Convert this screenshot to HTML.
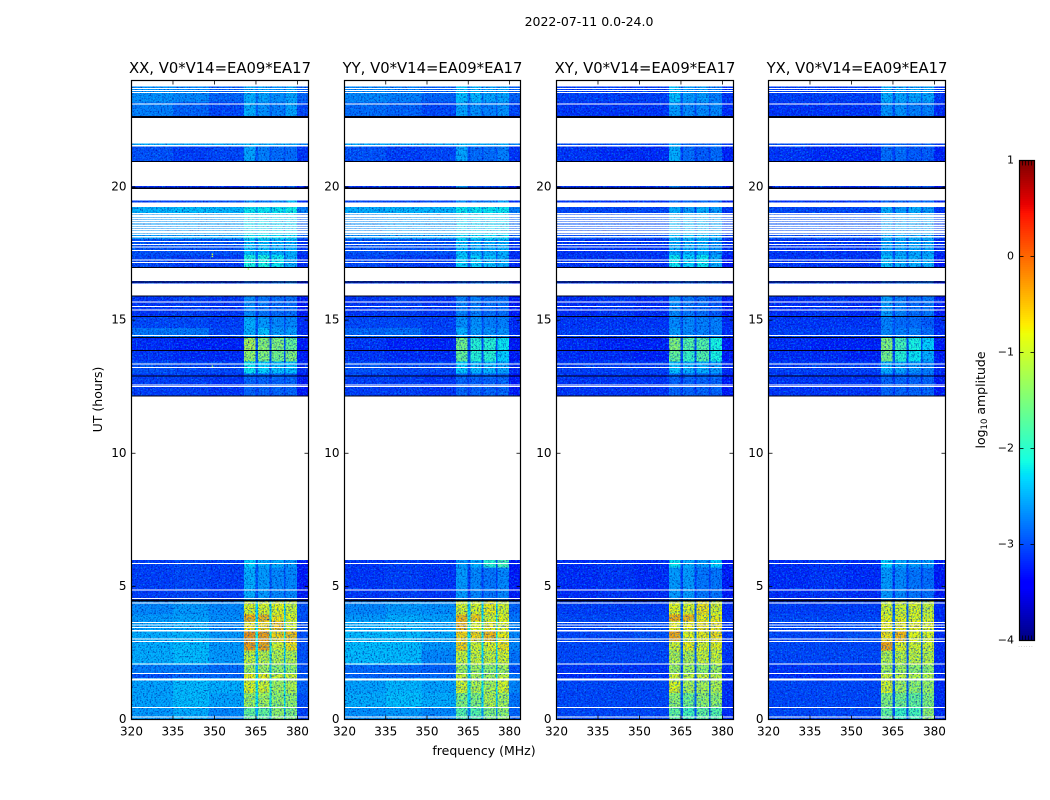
<!DOCTYPE html>
<html>
<head>
<meta charset="utf-8">
<title>2022-07-11 waterfall</title>
<style>
html,body{margin:0;padding:0;background:#fff;}
svg{display:block;}
text{font-family:"DejaVu Sans","Liberation Sans",sans-serif;fill:#000;}
</style>
</head>
<body>
<svg id="chart" xmlns="http://www.w3.org/2000/svg" width="1050" height="800" viewBox="0 0 1050 800">
  <defs>
    <filter id="speckle" filterUnits="userSpaceOnUse" x="120" y="70" width="840" height="660" color-interpolation-filters="sRGB">
      <feTurbulence type="fractalNoise" baseFrequency="0.62" numOctaves="2" seed="4" result="t1"/>
      <feColorMatrix in="t1" type="matrix" values="0 0 0 0 0  0 0 0 0 0.05  0 0 0 0 0.6  2.2 0 0 0 -1.02" result="dark"/>
      <feTurbulence type="fractalNoise" baseFrequency="0.58" numOctaves="2" seed="11" result="t2"/>
      <feColorMatrix in="t2" type="matrix" values="0 0 0 0 0  0 0 0 0 0.7  0 0 0 0 1  1.8 0 0 0 -0.88" result="light"/>
      <feMerge result="noise"><feMergeNode in="dark"/><feMergeNode in="light"/></feMerge>
      <feComposite in="noise" in2="SourceAlpha" operator="in" result="clipped"/>
      <feMerge><feMergeNode in="SourceGraphic"/><feMergeNode in="clipped"/></feMerge>
    </filter>
  </defs>
  <text x="589" y="26" font-size="12.5" text-anchor="middle">2022-07-11 0.0-24.0</text>
  <text x="0" y="0" font-size="12.5" text-anchor="middle" transform="translate(102,399.5) rotate(-90)">UT (hours)</text>
  <text x="484" y="755" font-size="12.5" text-anchor="middle">frequency (MHz)</text>
  <text x="0" y="0" font-size="12.5" text-anchor="middle" transform="translate(985,400) rotate(-90)">log<tspan font-size="8.5" dy="2">10</tspan><tspan dy="-2"> amplitude</tspan></text>
  <g id="panels"></g>
  <g id="colorbar"></g>
</svg>
<script>
// ---- chart data -----------------------------------------------------------
const panelTitles = ["XX, V0*V14=EA09*EA17","YY, V0*V14=EA09*EA17","XY, V0*V14=EA09*EA17","YX, V0*V14=EA09*EA17"];
const xTicks = [320,335,350,365,380];
const yTicks = [0,5,10,15,20];
const cbarTicks = [1,0,-1,-2,-3,-4];
// frequency column edges (MHz)
const freqEdges = [320,335,348,360.6,364.8,365.8,369.9,370.6,375.1,375.7,379.9,384];
// which value of a band row each frequency column reads
const freqColumn = [0,1,2,3,4,5,4,6,4,7,8];
// observed time bands (hours)
const timeBands = [[0,0.45],[0.45,1.0],[1.0,1.55],[1.55,1.75],[1.75,2.05],[2.05,2.6],[2.6,2.95],[2.95,3.3],[3.3,3.7],[3.7,3.95],[3.95,4.5],[4.5,5.7],[5.7,6.0],[12.15,13.0],[13.0,13.45],[13.45,13.87],[13.87,14.35],[14.35,14.7],[14.7,15.1],[15.1,15.92],[16.38,16.47],[16.97,17.45],[17.45,18.05],[18.05,19.0],[19.0,19.24],[19.42,19.5],[19.98,20.03],[20.95,21.53],[21.58,21.64],[22.62,23.2],[23.2,23.78]];
// log10 amplitude per band: low1, low2, low3, rfi1, gap, rfi2, rfi3, rfi4, edge
const ampXX = [
[-2.6,-2.5,-2.7,-1.6,-2.5,-1.6,-1.3,-1.4,-3.1],
[-2.55,-2.42,-2.55,-1.2,-2.2,-1.2,-1.3,-1.3,-3.0],
[-2.55,-2.42,-2.48,-0.85,-2.1,-0.9,-1.2,-1.1,-2.9],
[-3.0,-2.9,-2.9,-0.75,-2.2,-0.75,-0.9,-0.9,-3.0],
[-2.75,-2.75,-2.85,-1.2,-2.4,-1.2,-1.3,-1.3,-3.0],
[-2.5,-2.42,-2.6,-1.0,-2.3,-1.05,-1.1,-1.1,-3.0],
[-2.5,-2.42,-2.6,-0.3,-2.2,-0.35,-0.9,-0.7,-3.0],
[-2.5,-2.45,-2.6,-0.25,-2.1,-0.3,-0.6,-0.5,-3.0],
[-2.55,-2.5,-2.7,-0.7,-2.2,-0.6,-0.5,-0.9,-3.0],
[-2.6,-2.55,-2.65,-0.4,-2.2,-0.45,-0.7,-0.85,-3.0],
[-2.7,-2.6,-2.7,-0.85,-2.3,-0.85,-0.8,-0.95,-3.0],
[-3.1,-3.05,-3.1,-2.5,-3.0,-2.6,-2.7,-2.7,-3.3],
[-3.1,-3.05,-3.1,-2.3,-2.9,-2.5,-2.5,-2.6,-3.3],
[-3.1,-3.1,-3.15,-2.9,-3.1,-2.9,-2.9,-2.9,-3.3],
[-3.0,-3.05,-3.05,-2.2,-2.9,-2.3,-2.4,-2.4,-3.2],
[-3.15,-3.2,-3.2,-1.3,-3.0,-1.4,-1.5,-1.4,-3.3],
[-3.2,-3.25,-3.25,-1.15,-3.0,-1.35,-1.4,-1.6,-3.3],
[-2.8,-2.8,-3.05,-2.5,-3.0,-2.4,-2.6,-2.6,-3.2],
[-3.05,-3.05,-3.1,-2.5,-3.0,-2.6,-2.7,-2.7,-3.2],
[-3.15,-3.1,-3.15,-2.7,-3.1,-2.8,-2.85,-2.85,-3.3],
[-3.15,-3.15,-3.15,-2.9,-3.15,-2.9,-2.8,-2.7,-3.3],
[-3.05,-3.1,-3.1,-2.1,-2.9,-2.1,-2.2,-2.5,-3.2],
[-3.0,-3.0,-3.0,-2.4,-2.9,-2.4,-2.5,-2.5,-3.15],
[-2.6,-2.55,-2.55,-2.2,-2.5,-2.2,-2.25,-2.25,-2.9],
[-2.45,-2.4,-2.45,-2.2,-2.4,-2.2,-2.2,-2.15,-2.75],
[-3.05,-3.05,-3.0,-2.65,-3.0,-2.75,-2.65,-2.4,-3.2],
[-3.2,-3.2,-3.2,-3.0,-3.2,-3.0,-3.0,-3.0,-3.3],
[-3.0,-3.1,-3.05,-2.55,-3.0,-2.75,-2.85,-2.85,-3.15],
[-2.5,-2.5,-2.5,-2.4,-2.5,-2.5,-2.5,-2.5,-2.7],
[-2.75,-2.9,-3.05,-2.5,-2.9,-2.65,-2.75,-2.55,-3.05],
[-2.65,-2.7,-2.9,-2.5,-2.8,-2.55,-2.65,-2.55,-2.9]];
const ampYY = [
[-2.65,-2.6,-2.7,-1.7,-2.6,-1.7,-1.4,-1.3,-2.9],
[-2.5,-2.4,-2.5,-1.4,-2.3,-1.4,-1.1,-1.2,-2.8],
[-2.55,-2.45,-2.55,-0.9,-2.2,-1.1,-1.15,-0.9,-2.7],
[-2.9,-2.9,-2.85,-0.95,-2.3,-1.1,-1.15,-1.0,-2.8],
[-2.85,-2.85,-2.9,-1.2,-2.4,-1.2,-1.3,-1.2,-3.0],
[-2.42,-2.42,-2.7,-0.95,-2.3,-0.95,-1.0,-0.9,-2.8],
[-2.4,-2.42,-2.6,-0.6,-2.2,-0.9,-0.8,-0.7,-2.7],
[-2.42,-2.42,-2.5,-0.6,-2.2,-0.6,-0.45,-0.75,-2.7],
[-2.5,-2.45,-2.55,-0.45,-2.1,-0.8,-0.75,-0.8,-2.7],
[-2.6,-2.5,-2.55,-0.45,-2.2,-0.55,-0.9,-0.8,-2.8],
[-2.7,-2.6,-2.65,-0.85,-2.3,-0.85,-0.75,-0.9,-2.9],
[-3.15,-3.1,-3.15,-2.6,-3.1,-2.7,-2.8,-2.7,-3.3],
[-3.15,-3.1,-3.15,-2.6,-3.0,-2.5,-2.0,-1.8,-3.3],
[-3.1,-3.1,-3.15,-2.9,-3.1,-2.9,-2.9,-2.9,-3.3],
[-3.0,-3.05,-3.05,-2.35,-3.0,-2.45,-2.45,-2.55,-3.2],
[-3.15,-3.2,-3.2,-1.6,-3.0,-2.0,-2.0,-2.3,-3.3],
[-3.15,-3.25,-3.25,-1.5,-3.0,-2.0,-2.0,-2.2,-3.3],
[-2.9,-2.85,-3.05,-2.5,-3.0,-2.6,-2.65,-2.65,-3.2],
[-3.05,-3.05,-3.1,-2.65,-3.0,-2.65,-2.75,-2.75,-3.2],
[-3.15,-3.1,-3.15,-2.75,-3.1,-2.75,-2.85,-2.85,-3.3],
[-3.15,-3.15,-3.15,-2.9,-3.15,-2.9,-2.8,-2.8,-3.3],
[-3.05,-3.1,-3.1,-2.3,-2.9,-2.3,-2.4,-2.5,-3.2],
[-3.0,-3.0,-3.0,-2.4,-2.9,-2.5,-2.5,-2.5,-3.15],
[-2.65,-2.55,-2.55,-2.25,-2.5,-2.25,-2.25,-2.25,-2.9],
[-2.5,-2.45,-2.45,-2.2,-2.4,-2.2,-2.2,-2.2,-2.75],
[-3.05,-3.05,-3.05,-2.65,-3.0,-2.75,-2.75,-2.55,-3.2],
[-3.2,-3.2,-3.2,-2.65,-3.2,-3.0,-3.0,-3.0,-3.3],
[-3.0,-3.1,-3.05,-2.55,-3.0,-2.85,-2.85,-2.75,-3.15],
[-2.5,-2.5,-2.5,-2.4,-2.5,-2.5,-2.5,-2.5,-2.7],
[-2.85,-2.9,-3.05,-2.55,-2.9,-2.65,-2.75,-2.65,-3.05],
[-2.7,-2.75,-2.9,-2.4,-2.8,-2.45,-2.55,-2.55,-2.9]];
const ampXY = [
[-3.05,-3.05,-3.05,-1.6,-3.0,-1.8,-1.6,-1.7,-3.2],
[-3.05,-3.05,-3.05,-1.3,-2.9,-1.5,-1.3,-1.3,-3.2],
[-3.05,-3.05,-3.05,-0.85,-2.9,-1.15,-1.15,-1.1,-3.2],
[-3.2,-3.2,-3.15,-0.85,-2.9,-1.0,-0.95,-1.0,-3.2],
[-3.15,-3.15,-3.15,-1.2,-3.0,-1.2,-1.3,-1.2,-3.2],
[-3.05,-3.05,-3.05,-1.1,-2.9,-1.1,-0.95,-0.95,-3.15],
[-3.05,-3.05,-3.05,-0.9,-2.9,-0.75,-0.85,-0.8,-3.15],
[-3.05,-3.05,-3.0,-0.35,-2.8,-0.8,-0.75,-0.65,-3.15],
[-3.05,-3.05,-3.0,-0.75,-2.8,-0.75,-0.7,-0.7,-3.15],
[-3.05,-3.05,-3.05,-0.4,-2.8,-0.45,-0.75,-0.75,-3.15],
[-3.1,-3.1,-3.1,-0.8,-2.9,-0.85,-0.7,-0.85,-3.2],
[-3.2,-3.15,-3.2,-2.6,-3.1,-2.6,-2.8,-2.8,-3.3],
[-3.2,-3.15,-3.2,-2.2,-3.0,-2.5,-2.6,-2.3,-3.3],
[-3.15,-3.15,-3.15,-2.9,-3.15,-2.9,-2.9,-2.9,-3.3],
[-3.1,-3.1,-3.1,-2.4,-3.0,-2.5,-2.5,-2.6,-3.2],
[-3.2,-3.2,-3.25,-1.6,-3.0,-1.9,-1.7,-2.1,-3.3],
[-3.2,-3.25,-3.25,-1.4,-3.0,-1.7,-1.7,-2.1,-3.3],
[-3.1,-3.1,-3.1,-2.6,-3.0,-2.7,-2.75,-2.75,-3.2],
[-3.15,-3.15,-3.15,-2.7,-3.0,-2.7,-2.75,-2.75,-3.2],
[-3.2,-3.15,-3.2,-2.7,-3.1,-2.8,-2.85,-2.95,-3.3],
[-3.15,-3.15,-3.15,-2.9,-3.15,-2.9,-2.85,-2.85,-3.3],
[-3.15,-3.15,-3.15,-2.2,-3.0,-2.3,-2.2,-2.5,-3.3],
[-3.15,-3.15,-3.15,-2.5,-3.0,-2.5,-2.5,-2.65,-3.2],
[-3.0,-3.0,-3.0,-2.4,-2.9,-2.4,-2.4,-2.5,-3.1],
[-3.05,-3.05,-3.05,-2.5,-3.0,-2.6,-2.5,-2.6,-3.15],
[-3.15,-3.15,-3.15,-2.85,-3.1,-2.85,-2.85,-2.85,-3.25],
[-3.2,-3.2,-3.2,-2.75,-3.2,-3.0,-3.0,-3.0,-3.3],
[-3.15,-3.2,-3.2,-2.5,-3.1,-2.85,-2.95,-2.85,-3.25],
[-3.0,-3.0,-3.0,-2.5,-3.0,-2.85,-2.85,-2.85,-3.1],
[-3.15,-3.15,-3.15,-2.6,-3.0,-2.7,-2.7,-2.7,-3.2],
[-3.1,-3.1,-3.1,-2.4,-2.9,-2.6,-2.6,-2.75,-3.15]];
const ampYX = [
[-3.05,-3.05,-3.05,-1.6,-3.0,-1.9,-1.8,-1.3,-3.2],
[-3.05,-3.05,-3.05,-1.4,-2.9,-1.5,-1.6,-1.4,-3.2],
[-3.05,-3.05,-3.05,-0.9,-2.9,-1.2,-1.3,-1.25,-3.2],
[-3.2,-3.2,-3.15,-0.9,-2.9,-1.0,-1.05,-1.05,-3.2],
[-3.15,-3.15,-3.15,-1.2,-3.0,-1.2,-1.3,-1.3,-3.2],
[-3.05,-3.05,-3.05,-1.1,-2.9,-1.05,-1.0,-1.05,-3.2],
[-3.05,-3.05,-3.05,-0.35,-2.9,-0.8,-0.9,-0.9,-3.2],
[-3.05,-3.05,-3.0,-0.7,-2.8,-0.45,-0.8,-0.85,-3.2],
[-3.05,-3.05,-3.0,-0.75,-2.8,-0.75,-0.75,-0.8,-3.2],
[-3.05,-3.05,-3.05,-0.8,-2.8,-0.8,-0.85,-0.9,-3.2],
[-3.1,-3.1,-3.1,-0.9,-2.9,-0.9,-0.85,-0.95,-3.2],
[-3.2,-3.15,-3.2,-2.6,-3.1,-2.7,-2.8,-2.85,-3.3],
[-3.2,-3.15,-3.2,-2.3,-3.0,-2.5,-2.6,-2.6,-3.3],
[-3.15,-3.15,-3.15,-2.9,-3.15,-2.9,-2.9,-2.9,-3.3],
[-3.1,-3.1,-3.1,-2.5,-3.0,-2.55,-2.65,-2.75,-3.2],
[-3.2,-3.2,-3.25,-1.5,-3.0,-2.0,-2.2,-2.5,-3.3],
[-3.2,-3.25,-3.25,-1.4,-3.0,-1.8,-2.1,-2.3,-3.3],
[-3.1,-3.1,-3.1,-2.7,-3.0,-2.75,-2.75,-2.85,-3.2],
[-3.15,-3.15,-3.15,-2.75,-3.0,-2.85,-2.85,-2.95,-3.2],
[-3.2,-3.15,-3.2,-2.6,-3.1,-2.75,-2.85,-2.8,-3.3],
[-3.15,-3.15,-3.15,-2.9,-3.15,-2.9,-2.9,-2.85,-3.3],
[-3.15,-3.15,-3.15,-2.4,-3.0,-2.5,-2.5,-2.5,-3.3],
[-3.15,-3.15,-3.15,-2.55,-3.0,-2.55,-2.55,-2.55,-3.2],
[-3.0,-3.0,-3.0,-2.5,-2.9,-2.5,-2.5,-2.5,-3.1],
[-3.05,-3.05,-3.05,-2.5,-3.0,-2.6,-2.5,-2.6,-3.15],
[-3.15,-3.15,-3.15,-2.85,-3.1,-2.85,-2.85,-2.85,-3.25],
[-3.2,-3.2,-3.2,-3.0,-3.2,-3.0,-3.0,-3.0,-3.3],
[-3.15,-3.2,-3.2,-2.85,-3.1,-2.85,-2.95,-2.95,-3.25],
[-3.0,-3.0,-3.0,-2.9,-3.0,-2.9,-2.9,-2.9,-3.1],
[-3.15,-3.15,-3.15,-2.65,-3.0,-2.65,-2.75,-2.75,-3.2],
[-3.1,-3.1,-3.1,-2.5,-2.9,-2.55,-2.55,-2.55,-3.15]];
const panelAmps = [ampXX, ampYY, ampXY, ampYX];
// flagged (blank) integrations, hours: start, stop
const flaggedHours = [[0.08,0.115],[0.44,0.475],[1.47,1.54],[1.72,1.755],[2.06,2.095],[2.92,2.955],[3.01,3.045],[3.3,3.37],[3.44,3.475],[3.53,3.565],[3.62,3.655],[4.36,4.395],[4.52,4.555],[4.84,4.875],[5.85,5.885],[12.49,12.525],[12.55,12.585],[13.21,13.245],[13.33,13.37],[14.4,14.435],[15.36,15.395],[15.5,15.535],[15.66,15.695],[17.14,17.175],[17.24,17.275],[17.59,17.625],[17.73,17.765],[17.82,17.855],[17.93,17.965],[18.1,18.16],[18.19,18.25],[18.28,18.34],[18.36,18.42],[18.45,18.51],[18.54,18.6],[18.62,18.68],[18.71,18.77],[18.8,18.86],[18.88,18.94],[18.97,19.03],[23.11,23.145],[23.53,23.565],[23.6,23.635],[23.68,23.715]];
// integrations with near-zero amplitude (drawn black), hours: start, stop
const zeroHours = [[4.43,4.5],[12.13,12.17],[12.88,12.92],[13.84,13.88],[14.33,14.36],[15.12,15.15],[15.88,15.92],[16.41,16.46],[16.97,17.0],[19.93,19.98],[20.93,20.98],[22.6,22.66]];
// isolated bright samples: panel, MHz, hour, log10 amplitude
const outliers = [[0,349,17.42,-0.9],[0,349,17.5,-0.9],[0,362,16.95,-1.2],[0,349,13.3,-1.4]];

// ---- scales ---------------------------------------------------------------
const SVGNS = "http://www.w3.org/2000/svg";
const plotTop = 80.5, plotBottom = 719.5, hourMax = 24, freqMin = 320, freqMax = 384;
const panelLefts = [131.5, 344.5, 556.5, 768.5];
const panelRights = [308.5, 520.5, 733.5, 945.5];
function yScale(h){ return plotBottom - (h / hourMax) * (plotBottom - plotTop); }
function xScale(p, f){ return panelLefts[p] + (f - freqMin) / (freqMax - freqMin) * (panelRights[p] - panelLefts[p]); }
function lerpStops(stops, t){
  for (let i = 1; i < stops.length; i++){
    if (t <= stops[i][0]){
      const a = stops[i-1], b = stops[i];
      return a[1] + (b[1]-a[1]) * (t-a[0]) / (b[0]-a[0]);
    }
  }
  return stops[stops.length-1][1];
}
const jetR = [[0,0],[0.35,0],[0.66,1],[0.89,1],[1,0.5]];
const jetG = [[0,0],[0.125,0],[0.375,1],[0.64,1],[0.91,0],[1,0]];
const jetB = [[0,0.5],[0.11,1],[0.34,1],[0.65,0],[1,0]];
function colorScale(v){
  const t = Math.max(0, Math.min(1, (v + 4) / 5));
  const c = s => Math.round(255 * lerpStops(s, t));
  return "rgb(" + c(jetR) + "," + c(jetG) + "," + c(jetB) + ")";
}
function svgEl(tag, parent){
  const el = document.createElementNS(SVGNS, tag);
  parent.appendChild(el);
  return el;
}
function setAttrs(el, attrs){ for (const k in attrs) el.setAttribute(k, attrs[k]); }

// ---- panels ---------------------------------------------------------------
const panelsRoot = document.getElementById("panels");
panelTitles.forEach(function(title, p){
  const L = panelLefts[p], R = panelRights[p];
  const g = svgEl("g", panelsRoot);
  
  

  const cells = svgEl("g", g);
  
  
  setAttrs(cells, {filter:"url(#speckle)", "shape-rendering":"crispEdges"});
  timeBands.forEach(function(band, b){
    freqColumn.forEach(function(col, c){
      const r = svgEl("rect", cells);
      
      
      const x0 = xScale(p, freqEdges[c]), x1 = xScale(p, freqEdges[c+1]);
      const y0 = yScale(band[1]), y1 = yScale(band[0]);
      setAttrs(r, {x:x0, y:y0, width:x1-x0, height:y1-y0, fill:colorScale(panelAmps[p][b][col])});
    });
  });

  outliers.filter(o => o[0] === p).forEach(function(o){
    const r = svgEl("rect", g);
    
    
    setAttrs(r, {x:xScale(p,o[1]), y:yScale(o[2]), width:1.4, height:1.4, fill:colorScale(o[3])});
  });

  const zeros = svgEl("g", g);
  
  
  zeros.setAttribute("shape-rendering", "crispEdges");
  zeroHours.forEach(function(z){
    const r = svgEl("rect", zeros);
    
    
    setAttrs(r, {x:L, y:yScale(z[1]), width:R-L, height:Math.max(1, yScale(z[0])-yScale(z[1])), fill:"#000010"});
  });

  const flags = svgEl("g", g);
  
  
  flags.setAttribute("shape-rendering", "crispEdges");
  flaggedHours.forEach(function(z){
    const r = svgEl("rect", flags);
    
    
    setAttrs(r, {x:L, y:yScale(z[1]), width:R-L, height:Math.max(1, yScale(z[0])-yScale(z[1])), fill:"#fff"});
  });

  const frame = svgEl("rect", g);
  
  
  setAttrs(frame, {x:L, y:plotTop, width:R-L, height:plotBottom-plotTop, fill:"none", stroke:"#000", "stroke-width":1.2});

  xTicks.forEach(function(v){
    const x = xScale(p, v);
    [[plotBottom, plotBottom-4],[plotTop, plotTop+4]].forEach(function(pair){
      const t = svgEl("line", g);
      
      
      setAttrs(t, {x1:x, x2:x, y1:pair[0], y2:pair[1], stroke:"#000", "stroke-width":0.8});
    });
    const lab = svgEl("text", g);
    
    
    setAttrs(lab, {x:x, y:plotBottom+16, "font-size":12, "text-anchor":"middle"});
    lab.textContent = v;
  });

  yTicks.forEach(function(v){
    const y = yScale(v);
    [[L, L+4],[R, R-4]].forEach(function(pair){
      const t = svgEl("line", g);
      
      
      setAttrs(t, {x1:pair[0], x2:pair[1], y1:y, y2:y, stroke:"#000", "stroke-width":0.8});
    });
    const lab = svgEl("text", g);
    
    
    setAttrs(lab, {x:L-5, y:y+3.5, "font-size":12, "text-anchor":"end"});
    lab.textContent = v;
  });

  const ttl = svgEl("text", g);
  
  
  setAttrs(ttl, {x:(L+R)/2, y:73, "font-size":14.8, "text-anchor":"middle"});
  ttl.textContent = title;
});

// ---- colorbar -------------------------------------------------------------
const cbarRoot = document.getElementById("colorbar");
const cbL = 1019.5, cbR = 1034.5, cbTop = 160.5, cbBottom = 640.5;
function cbarY(v){ return cbBottom - (v + 4) / 5 * (cbBottom - cbTop); }
const cbarSteps = 240;
for (let i = 0; i < cbarSteps; i++){
  const v0 = -4 + 5 * i / cbarSteps, v1 = -4 + 5 * (i + 1) / cbarSteps;
  const r = svgEl("rect", cbarRoot);
  
  
  setAttrs(r, {x:cbL, y:cbarY(v1), width:cbR-cbL, height:cbarY(v0)-cbarY(v1)+0.5, fill:colorScale((v0+v1)/2), "shape-rendering":"crispEdges"});
}
cbarTicks.forEach(function(v){
  const y = cbarY(v);
  [[cbL, cbL+4],[cbR, cbR-4]].forEach(function(pair){
    const t = svgEl("line", cbarRoot);
    
    
    setAttrs(t, {x1:pair[0], x2:pair[1], y1:y, y2:y, stroke:"#000", "stroke-width":0.8});
  });
  const lab = svgEl("text", cbarRoot);
  
  
  setAttrs(lab, {x:cbL-5.5, y:y+3, "font-size":11, "text-anchor":"end"});
  lab.textContent = String(v).replace("-", "\u2212");
});
[0.2,0.4,0.6,0.8].forEach(function(frac){
  const x = cbL + (cbR - cbL) * frac;
  [[cbTop, cbTop+5],[cbBottom, cbBottom-5]].forEach(function(pair){
    const t = svgEl("line", cbarRoot);
    
    
    setAttrs(t, {x1:x, x2:x, y1:pair[0], y2:pair[1], stroke:"#000", "stroke-width":0.7});
  });
});
const cbFrame = svgEl("rect", cbarRoot);


setAttrs(cbFrame, {x:cbL, y:cbTop, width:cbR-cbL, height:cbBottom-cbTop, fill:"none", stroke:"#000", "stroke-width":1.2});
const cbDots = svgEl("text", cbarRoot);


setAttrs(cbDots, {x:1026, y:647, "font-size":5, "text-anchor":"middle", "letter-spacing":"1"});
cbDots.style.fill = "#888";
cbDots.textContent = "......";
</script>
</body>
</html>
